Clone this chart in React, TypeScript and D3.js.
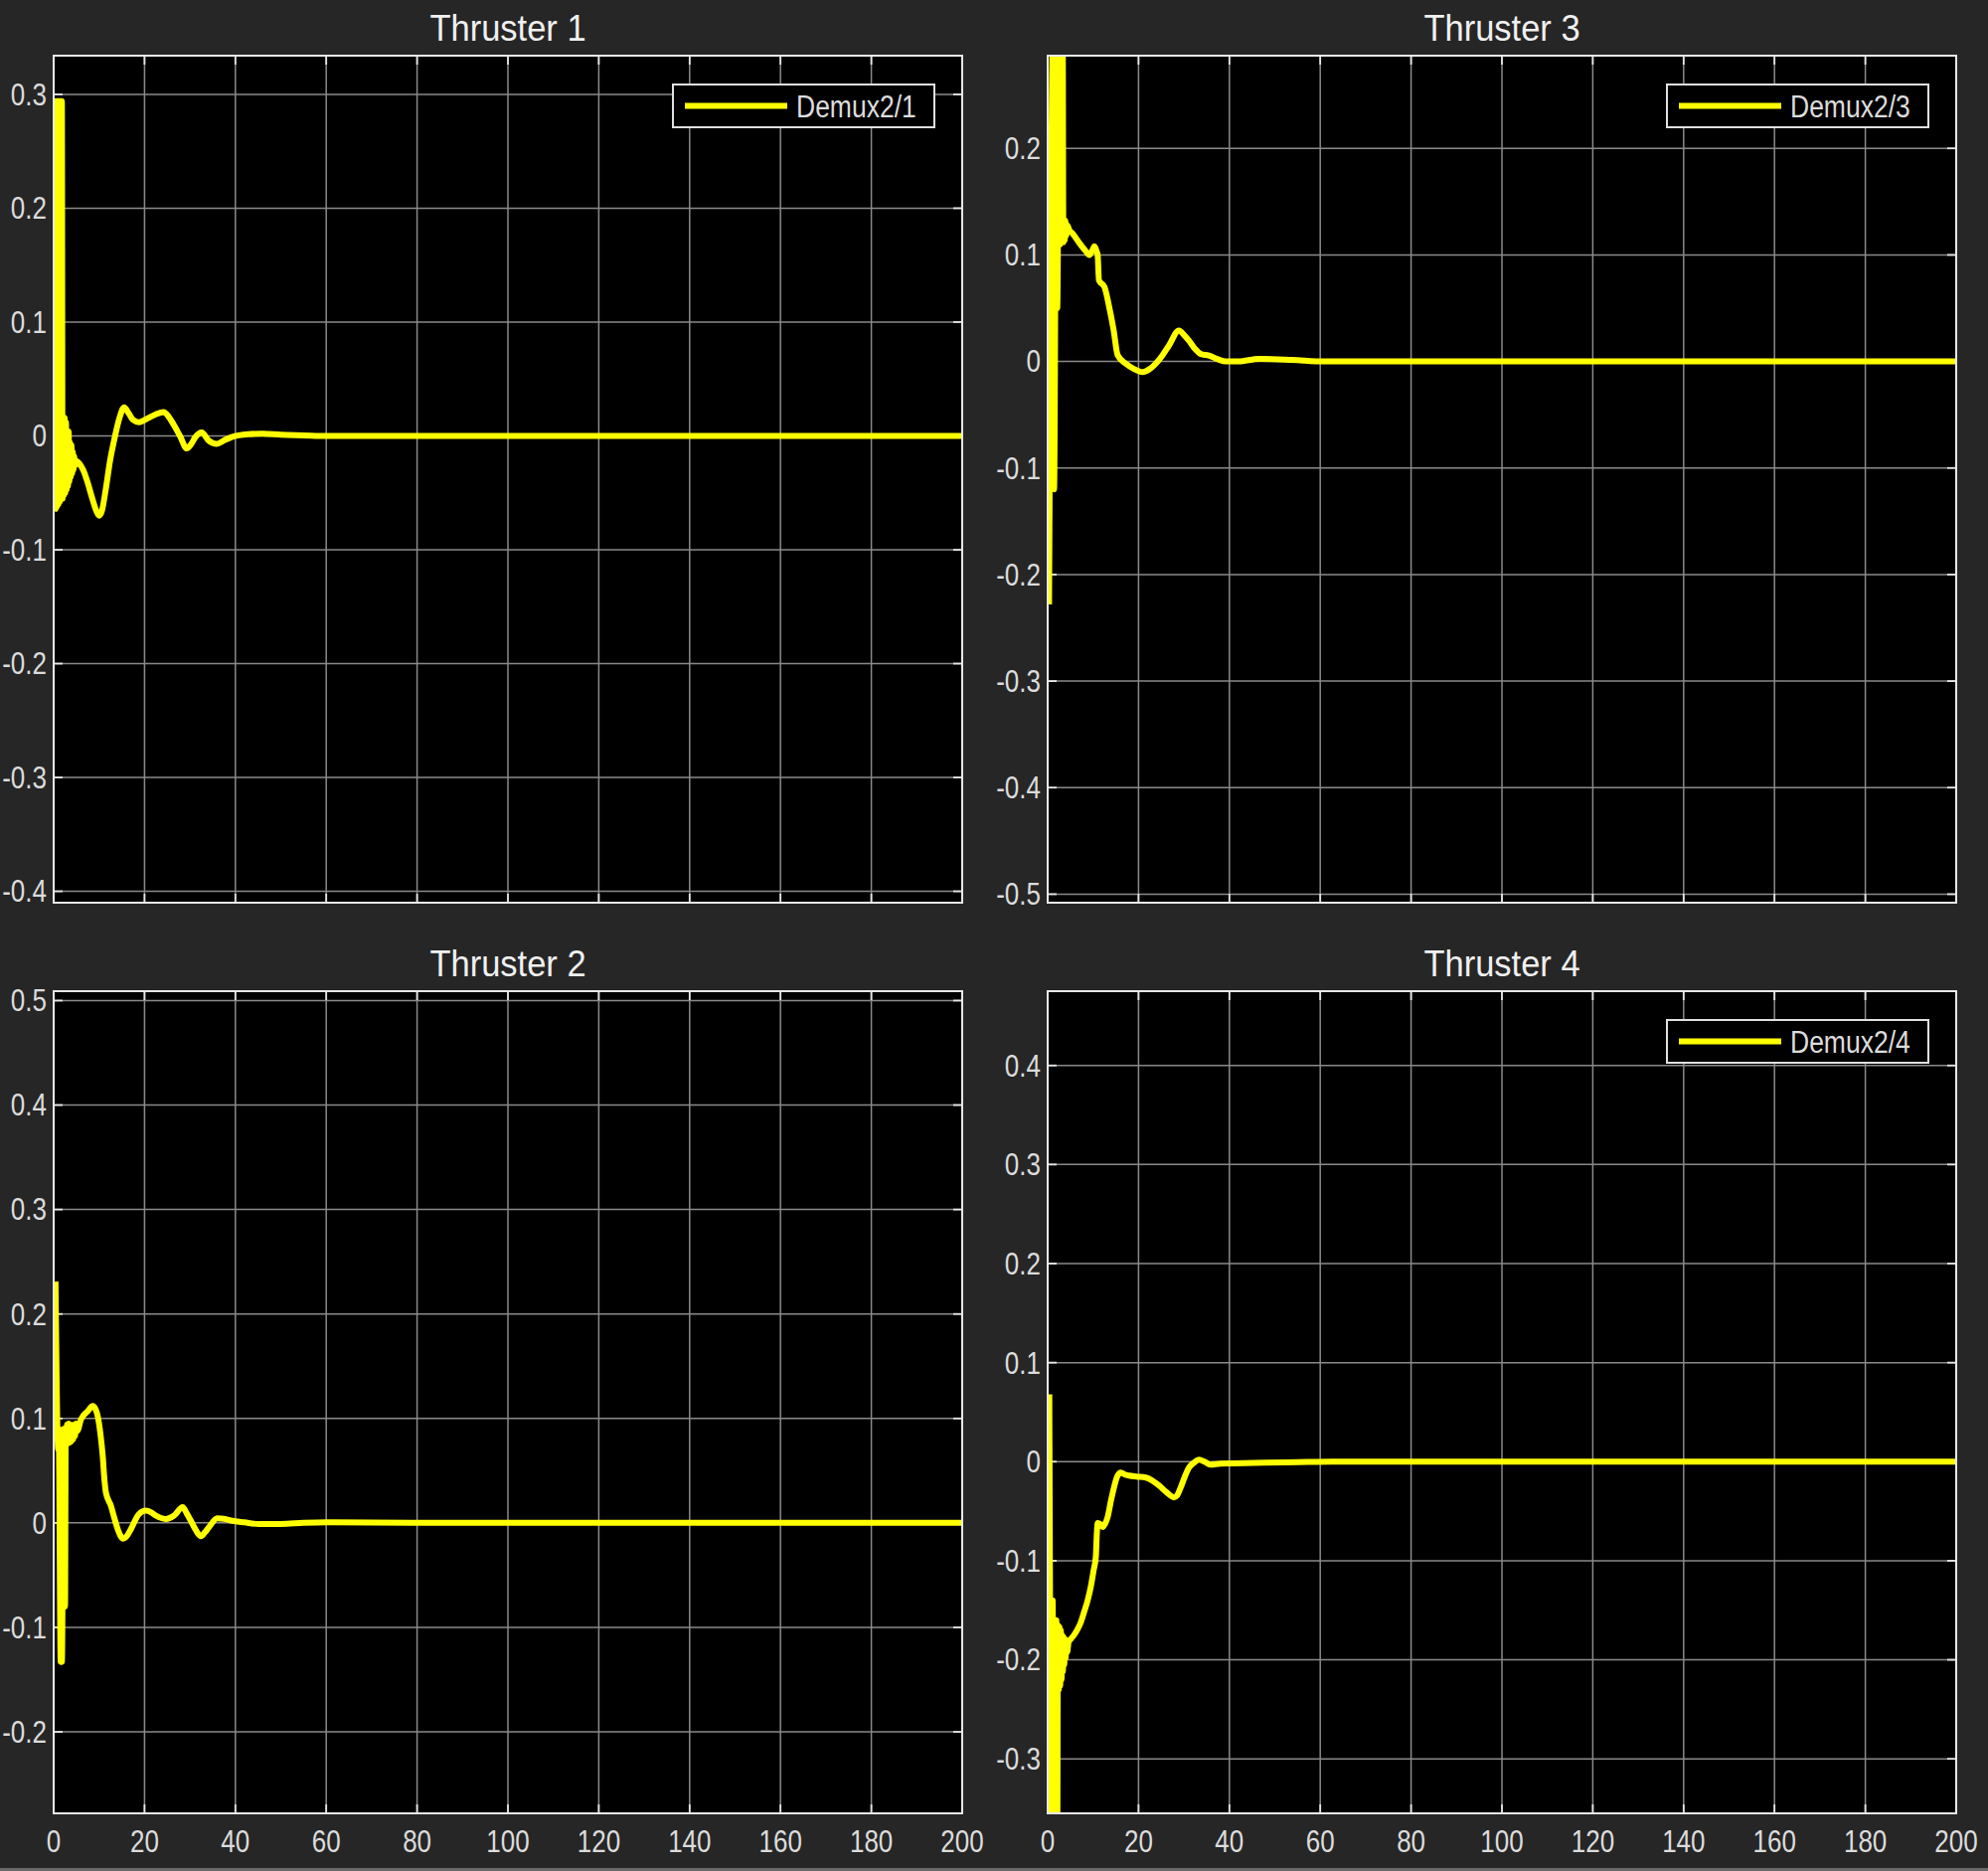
import React from 'react';
import * as d3 from 'd3';

// ---------- DATA ----------
const xTicks = [0, 20, 40, 60, 80, 100, 120, 140, 160, 180, 200];

const thruster1Ticks = [-0.4, -0.3, -0.2, -0.1, 0, 0.1, 0.2, 0.3];
const thruster3Ticks = [-0.5, -0.4, -0.3, -0.2, -0.1, 0, 0.1, 0.2];
const thruster2Ticks = [-0.2, -0.1, 0, 0.1, 0.2, 0.3, 0.4, 0.5];
const thruster4Ticks = [-0.3, -0.2, -0.1, 0, 0.1, 0.2, 0.3, 0.4];

const thruster1T = [0.15, 0.3, 0.45, 0.6, 0.75, 0.9, 1.05, 1.2, 1.35, 1.5, 1.65, 1.8, 1.95, 2.1, 2.25, 2.4, 2.55, 2.7, 2.85, 3.0, 3.15, 3.3, 3.45, 3.6, 3.75, 3.9, 4.05, 4.2, 4.35, 4.5, 4.7, 5.0, 5.6, 6.5, 7.4, 8.5, 9.4, 10.0, 10.6, 11.5, 12.4, 13.3, 14.5, 15.5, 16.5, 17.5, 18.8, 20.0, 21.0, 22.5, 24.2, 25.3, 26.4, 27.8, 29.3, 30.3, 31.2, 32.6, 34.1, 35.9, 37.5, 39.2, 42.8, 46, 50, 55, 60, 80, 100, 150, 200];
const thruster1V = [-0.066, 0.294, -0.064, 0.294, -0.062, 0.294, -0.06, 0.294, -0.058, 0.294, -0.056, 0.294, -0.055, 0.016, -0.052, 0.016, -0.05, 0.012, -0.047, 0.004, -0.044, 0.004, -0.04, -0.006, -0.036, -0.008, -0.033, -0.014, -0.03, -0.018, -0.026, -0.022, -0.024, -0.03, -0.04, -0.055, -0.066, -0.07, -0.066, -0.046, -0.022, -0.004, 0.016, 0.025, 0.02, 0.014, 0.012, 0.014, 0.016, 0.019, 0.021, 0.017, 0.01, 0.0, -0.011, -0.007, -0.001, 0.003, -0.004, -0.007, -0.004, -0.001, 0.0015, 0.002, 0.001, 0.0005, 0, 0, 0, 0, 0];

const thruster3T = [0.3, 1.25, 1.4, 2.0, 2.1, 2.6, 2.75, 3.3, 3.45, 3.6, 3.75, 3.9, 4.05, 4.3, 4.8, 5.5, 7.0, 8.3, 9.2, 9.8, 10.3, 10.8, 11.0, 11.3, 12.5, 13.5, 14.5, 15.4, 17.2, 19.0, 20.9, 22.5, 23.8, 25.3, 26.7, 28.9, 30.0, 31.1, 32.4, 33.7, 35.5, 37.5, 39.2, 42, 46.5, 53.8, 61, 100, 200];
const thruster3V = [-0.228, 0.33, -0.12, 0.33, 0.05, 0.33, 0.11, 0.33, 0.112, 0.13, 0.114, 0.132, 0.118, 0.128, 0.123, 0.12, 0.111, 0.104, 0.1, 0.104, 0.108, 0.103, 0.1, 0.076, 0.07, 0.052, 0.03, 0.006, -0.002, -0.007, -0.01, -0.007, -0.002, 0.006, 0.015, 0.029, 0.025, 0.0195, 0.012, 0.007, 0.0056, 0.002, 0, 0, 0.0025, 0.0015, 0, 0, 0];

const thruster2T = [0.4, 1.0, 1.1, 1.55, 1.8, 2.2, 2.35, 2.5, 2.65, 2.8, 2.95, 3.1, 3.3, 3.5, 3.7, 3.9, 4.1, 4.3, 4.5, 4.7, 4.9, 5.2, 6.0, 7.5, 8.6, 9.2, 9.7, 10.3, 10.8, 11.2, 11.5, 12.6, 13.4, 14.1, 15.3, 16.2, 17, 18.8, 20.3, 21.5, 22.5, 24.7, 26.5, 28.4, 29.3, 30.2, 31.3, 32.4, 33.3, 34.2, 36, 37.5, 39.3, 42, 45.2, 50, 55, 60, 80, 200];
const thruster2V = [0.231, 0.07, 0.09, -0.133, -0.133, 0.09, 0.075, -0.08, 0.09, 0.078, 0.094, 0.076, 0.095, 0.077, 0.094, 0.078, 0.093, 0.08, 0.094, 0.083, 0.095, 0.088, 0.099, 0.107, 0.112, 0.109, 0.102, 0.085, 0.064, 0.04, 0.029, 0.0165, 0.004, -0.006, -0.015, -0.012, -0.006, 0.0086, 0.0117, 0.01, 0.007, 0.0038, 0.007, 0.015, 0.009, 0.002, -0.007, -0.0127, -0.009, -0.004, 0.0044, 0.004, 0.002, 0.0005, -0.001, -0.001, 0, 0.0005, 0, 0];

const thruster4T = [0.35, 0.9, 1.1, 1.3, 1.5, 1.75, 1.9, 2.1, 2.25, 2.45, 2.6, 2.75, 2.9, 3.05, 3.2, 3.35, 3.5, 3.65, 3.8, 3.95, 4.1, 4.3, 4.6, 5.1, 5.8, 6.6, 7.3, 8.0, 8.8, 9.5, 10.1, 10.6, 10.85, 11.0, 11.6, 12.1, 12.6, 13.2, 13.9, 14.6, 15.3, 16.1, 17, 17.9, 19.5, 21.6, 23, 24.5, 26.2, 27.8, 28.5, 29.2, 30.2, 31.1, 32.2, 33.3, 34.5, 35.8, 38, 40.6, 47.9, 55, 62.5, 200];
const thruster4V = [0.068, -0.4, -0.14, -0.4, -0.16, -0.4, -0.16, -0.4, -0.165, -0.23, -0.167, -0.226, -0.17, -0.22, -0.175, -0.212, -0.177, -0.205, -0.179, -0.198, -0.18, -0.192, -0.182, -0.179, -0.175, -0.169, -0.162, -0.152, -0.14, -0.126, -0.11, -0.096, -0.07, -0.062, -0.063, -0.066, -0.063, -0.056, -0.04, -0.026, -0.015, -0.011, -0.013, -0.014, -0.015, -0.016, -0.019, -0.024, -0.031, -0.036, -0.034, -0.027, -0.015, -0.006, -0.001, 0.002, 0.0, -0.003, -0.002, -0.0017, -0.001, -0.0005, 0, 0];

// ---------- STYLE / LAYOUT ----------
const W = 2000;
const H = 1882;
const BG = '#262626';
const TEXT = '#dcdcdc';
const GRID = '#8a8a8a';
const LINE = '#ffff00';
const FONT = '"Liberation Sans", Arial, Helvetica, sans-serif';

type Panel = {
  key: string;
  title: string;
  legend: string | null;
  x0: number; x1: number; y0: number; y1: number;
  yDomain: [number, number];
  yTicks: number[];
  t: number[];
  v: number[];
  showXLabels: boolean;
};

const panels: Panel[] = [
  { key: 'p1', title: 'Thruster 1', legend: 'Demux2/1', x0: 54, x1: 968, y0: 56, y1: 908, yDomain: [-0.41, 0.334], yTicks: thruster1Ticks, t: thruster1T, v: thruster1V, showXLabels: false },
  { key: 'p3', title: 'Thruster 3', legend: 'Demux2/3', x0: 1054, x1: 1968, y0: 56, y1: 908, yDomain: [-0.508, 0.287], yTicks: thruster3Ticks, t: thruster3T, v: thruster3V, showXLabels: false },
  { key: 'p2', title: 'Thruster 2', legend: null, x0: 54, x1: 968, y0: 997, y1: 1824, yDomain: [-0.278, 0.509], yTicks: thruster2Ticks, t: thruster2T, v: thruster2V, showXLabels: true },
  { key: 'p4', title: 'Thruster 4', legend: 'Demux2/4', x0: 1054, x1: 1968, y0: 997, y1: 1824, yDomain: [-0.355, 0.475], yTicks: thruster4Ticks, t: thruster4T, v: thruster4V, showXLabels: true },
];

const fmt = (d: number) => (d === 0 ? '0' : d3.format('.1f')(d).replace('\u2212', '-'));

function PanelView({ p }: { p: Panel }) {
  const x = d3.scaleLinear().domain([0, 200]).range([p.x0, p.x1]);
  const y = d3.scaleLinear().domain(p.yDomain).range([p.y1, p.y0]);
  const pts: [number, number][] = p.t.map((t, i) => [t, p.v[i]]);
  const line = d3
    .line<[number, number]>()
    .x((d) => x(d[0]))
    .y((d) => y(d[1]))
    .curve(d3.curveMonotoneX);
  const tickLen = 9;
  const cx = (p.x0 + p.x1) / 2;
  const lgRight = p.x1 - 28;
  const lgLeft = lgRight - 263;
  const lgTop = p.y0 + 29;
  const lgH = 43;
  const lgMid = lgTop + lgH / 2;
  return (
    <g>
      <rect x={p.x0} y={p.y0} width={p.x1 - p.x0} height={p.y1 - p.y0} fill="#000" />
      <clipPath id={`clip-${p.key}`}>
        <rect x={p.x0} y={p.y0} width={p.x1 - p.x0} height={p.y1 - p.y0} />
      </clipPath>
      {xTicks.map((t) => (
        <line key={`gx${t}`} x1={x(t)} x2={x(t)} y1={p.y0} y2={p.y1} stroke={GRID} strokeWidth={1.5} />
      ))}
      {p.yTicks.map((v) => (
        <line key={`gy${v}`} x1={p.x0} x2={p.x1} y1={y(v)} y2={y(v)} stroke={GRID} strokeWidth={1.5} />
      ))}
      {xTicks.map((t) => (
        <g key={`tx${t}`}>
          <line x1={x(t)} x2={x(t)} y1={p.y1} y2={p.y1 - tickLen} stroke="#e6e6e6" strokeWidth={1.8} />
          <line x1={x(t)} x2={x(t)} y1={p.y0} y2={p.y0 + tickLen} stroke="#e6e6e6" strokeWidth={1.8} />
        </g>
      ))}
      {p.yTicks.map((v) => (
        <g key={`ty${v}`}>
          <line x1={p.x0} x2={p.x0 + tickLen} y1={y(v)} y2={y(v)} stroke="#e6e6e6" strokeWidth={1.8} />
          <line x1={p.x1} x2={p.x1 - tickLen} y1={y(v)} y2={y(v)} stroke="#e6e6e6" strokeWidth={1.8} />
        </g>
      ))}
      <path
        d={line(pts) || ''}
        fill="none"
        stroke={LINE}
        strokeWidth={6}
        strokeLinejoin="round"
        strokeLinecap="butt"
        clipPath={`url(#clip-${p.key})`}
      />
      <rect x={p.x0} y={p.y0} width={p.x1 - p.x0} height={p.y1 - p.y0} fill="none" stroke="#e8e8e8" strokeWidth={2} />
      {p.yTicks.map((v) => (
        <text
          key={`ly${v}`}
          transform={`translate(${p.x0 - 7},${y(v)}) scale(1,1.2)`}
          textAnchor="end"
          dominantBaseline="central"
          fontSize={26}
          fill={TEXT}
          fontFamily={FONT}
        >
          {fmt(v)}
        </text>
      ))}
      {p.showXLabels &&
        xTicks.map((t) => (
          <text
            key={`lx${t}`}
            transform={`translate(${x(t)},${1852}) scale(1,1.2)`}
            textAnchor="middle"
            dominantBaseline="central"
            fontSize={26}
            fill={TEXT}
            fontFamily={FONT}
          >
            {t}
          </text>
        ))}
      <text
        transform={`translate(${cx},${p.y0 - 27}) scale(1,1.08)`}
        textAnchor="middle"
        dominantBaseline="central"
        fontSize={34.5}
        fill="#f0f0f0"
        fontFamily={FONT}
      >
        {p.title}
      </text>
      {p.legend && (
        <g>
          <rect x={lgLeft} y={lgTop} width={263} height={lgH} fill="#000" stroke="#e0e0e0" strokeWidth={2} />
          <line x1={lgLeft + 12} x2={lgLeft + 115} y1={lgMid} y2={lgMid} stroke={LINE} strokeWidth={6} />
          <text
            transform={`translate(${lgLeft + 124},${lgMid + 1}) scale(1,1.2)`}
            dominantBaseline="central"
            fontSize={26.5}
            fill={TEXT}
            fontFamily={FONT}
          >
            {p.legend}
          </text>
        </g>
      )}
    </g>
  );
}

export default function App() {
  return (
    <svg
      width={W}
      height={H}
      viewBox={`0 0 ${W} ${H}`}
      style={{ position: 'absolute', left: 0, top: 0, display: 'block' }}
    >
      <rect x={0} y={0} width={W} height={H} fill={BG} />
      <rect x={0} y={H - 3} width={W} height={3} fill="#6a6a6a" />
      {panels.map((p) => (
        <PanelView key={p.key} p={p} />
      ))}
    </svg>
  );
}
